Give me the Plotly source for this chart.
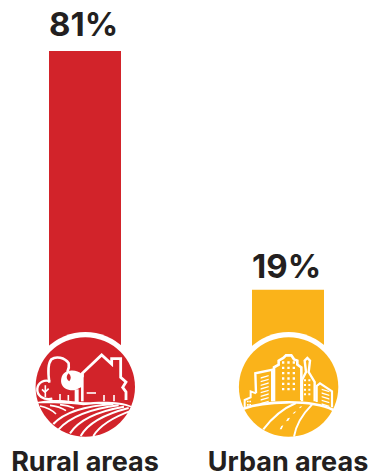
import re
import plotly.graph_objects as go

categories = ["Rural areas", "Urban areas"]
values = [81, 19]
labels = ["81%", "19%"]
colors = ["#d2232a", "#fab31a"]

W, H = 373, 475
TOP, BASE = 51, 363
PAPER_H = BASE - TOP
WHITE = "#ffffff"
NUM = re.compile(r"(-?\d+\.?\d*)[ ,](-?\d+\.?\d*)")


def to_paper(px, py):
    return px / W, (BASE - py) / PAPER_H


def conv(path, ox, oy):
    def f(m):
        x, y = to_paper(ox + float(m.group(1)) / 3, oy + float(m.group(2)) / 3)
        return f"{x:.5f},{y:.5f}"
    return NUM.sub(f, path)


def disc(cx, cy, r, color):
    x0, y0 = to_paper(cx - r, cy + r)
    x1, y1 = to_paper(cx + r, cy - r)
    return dict(type="circle", xref="paper", yref="paper", x0=x0, x1=x1, y0=y0, y1=y1,
                fillcolor=color, line_width=0, layer="above")


def icon(paths, ox, oy):
    out = []
    for p, fill, width in paths:
        out.append(dict(type="path", xref="paper", yref="paper", path=conv(p, ox, oy),
                        fillcolor=fill if fill else "rgba(0,0,0,0)",
                        line=dict(color=WHITE, width=width), layer="above"))
    return out


RED, YEL = colors
rural = [
    ("M88 188 C84 160 84 130 94 118 C108 108 134 112 146 130 C148 140 146 148 142 156", None, 2.6),
    ("M97 236 C70 242 50 226 52 206 C54 186 74 178 90 184", None, 2.4),
    ("M76 196 L76 232 M66 208 L76 218 M86 206 L76 216", None, 1.6),
    ("M150 152 C130 152 120 172 124 190 C128 206 148 214 166 210 L186 200 L186 162 C176 154 164 150 150 152 Z", WHITE, 0),
    ("M146 160 C138 168 138 178 148 184 C154 176 154 168 146 160 Z", RED, 0),
    ("M164 208 L164 246 L176 246 L176 208 Z", WHITE, 0),
    ("M187 172 L187 160 L245 105 L275 132 L275 116 L302 116 L302 172 L318 186 L308 202 L318 216 L318 240", None, 2.8),
    ("M187 160 L187 244", None, 2.6),
    ("M200 219 L228 219", None, 1.6),
    ("M252 225 L252 244 M282 225 L282 244 M120 222 L120 240 M145 225 L145 242", None, 1.6),
    ("M90 240 C150 238 180 250 220 246 C270 244 310 246 334 258 L332 262 C300 250 240 250 190 256 C140 250 100 250 52 250 L50 246 Z", WHITE, 0),
    ("M60 258 C80 262 96 270 108 282", None, 1.6),
    ("M90 256 C110 258 126 264 138 272", None, 1.6),
    ("M120 254 C136 256 152 260 162 264", None, 1.6),
    ("M100 312 C130 280 190 258 280 252", None, 2.2),
    ("M116 328 C146 296 200 268 296 256", None, 2.0),
    ("M150 340 C172 306 220 276 312 260", None, 2.0),
    ("M182 348 C200 316 240 286 326 264", None, 2.0),
    ("M220 348 C236 322 268 296 334 272", None, 2.0),
]

win_c = "".join(f"M{x} {y} L{x+7} {y} L{x+7} {y+7} L{x} {y+7} Z " for y in range(94, 190, 16) for x in (186, 202, 218))
win_d = "".join(f"M{x} {y} L{x+6} {y} L{x+6} {y+6} L{x} {y+6} Z " for y in range(148, 200, 14) for x in (252, 265))
win_l = "".join(f"M122 {y} L146 {y-7} L146 {y-3} L122 {y+4} Z " for y in range(142, 222, 11))
win_r = "".join(f"M305 {y} L328 {y+7} L328 {y+11} L305 {y+4} Z " for y in range(176, 226, 11))
win_s = "".join(f"M{x} {y} L{x+5} {y} L{x+5} {y+5} L{x} {y+5} Z " for y in (212, 222) for x in (81, 88))
urban = [
    ("M162 214 L162 112 L176 104 L176 92 L190 84 L198 76 L214 76 L222 88 L232 92 L232 104 L244 112 L244 210", None, 2.6),
    ("M162 118 L106 130 L108 190", None, 2.4),
    ("M108 190 L92 184 L92 202 L74 210 L74 236", None, 2.0),
    ("M156 122 L156 214", None, 2.0),
    ("M246 214 L246 150 L258 126 L254 92 L262 84 L270 92 L266 126 L284 156 L284 214", None, 2.4),
    ("M290 216 L290 168 L300 160 L336 184 L336 232", None, 2.2),
    (win_c, WHITE, 0),
    (win_d, WHITE, 0),
    (win_l, WHITE, 0),
    (win_r, WHITE, 0),
    (win_s, WHITE, 0),
    ("M70 236 C130 214 270 206 340 240", None, 2.6),
    ("M130 298 C155 265 190 235 228 219", None, 2.0),
    ("M222 320 C228 285 250 250 276 224", None, 2.0),
    ("M184 288 L190 286 L185 298 L179 298 Z M203 265 L210 263 L205 272 L198 274 Z M222 246 L229 244 L224 250 L218 252 Z M240 230 L246 228 L243 233 L237 235 Z", WHITE, 0),
]

shapes = [disc(85.3, 387, 55, WHITE), disc(85.3, 387, 49.7, RED),
          disc(288.6, 387, 55, WHITE), disc(288.6, 387, 49.7, YEL)]
shapes += icon(rural, 20, 320) + icon(urban, 220, 330)

fig = go.Figure(go.Bar(x=categories, y=values, marker=dict(color=colors, line_width=0),
                       width=72 / 203, hoverinfo="skip"))

annotations = [dict(x=c, y=v, xref="x", yref="y", text=f"<b>{t}</b>", showarrow=False,
                    yanchor="bottom", yshift=s, xshift=-2,
                    font=dict(family="Inter", size=33, color="#231f20"))
               for c, v, t, s in zip(categories, values, labels, (5, 2))]

fig.update_layout(
    width=W, height=H, autosize=False, paper_bgcolor=WHITE, plot_bgcolor=WHITE,
    margin=dict(l=0, r=0, t=TOP, b=H - BASE, pad=0), showlegend=False,
    shapes=shapes, annotations=annotations,
    xaxis=dict(type="category", range=[-85 / 203, (W - 85) / 203], showgrid=False, showline=False,
               ticks="", ticklabelstandoff=80, fixedrange=True, automargin=False,
               tickfont=dict(family="Inter", size=27, color="#231f20", weight=700)),
    yaxis=dict(range=[0, 81], visible=False, fixedrange=True, automargin=False),
)
fig.write_html("out.html", config={"displayModeBar": False},
               post_script="document.body.style.margin='0';document.documentElement.style.overflow='hidden';")
